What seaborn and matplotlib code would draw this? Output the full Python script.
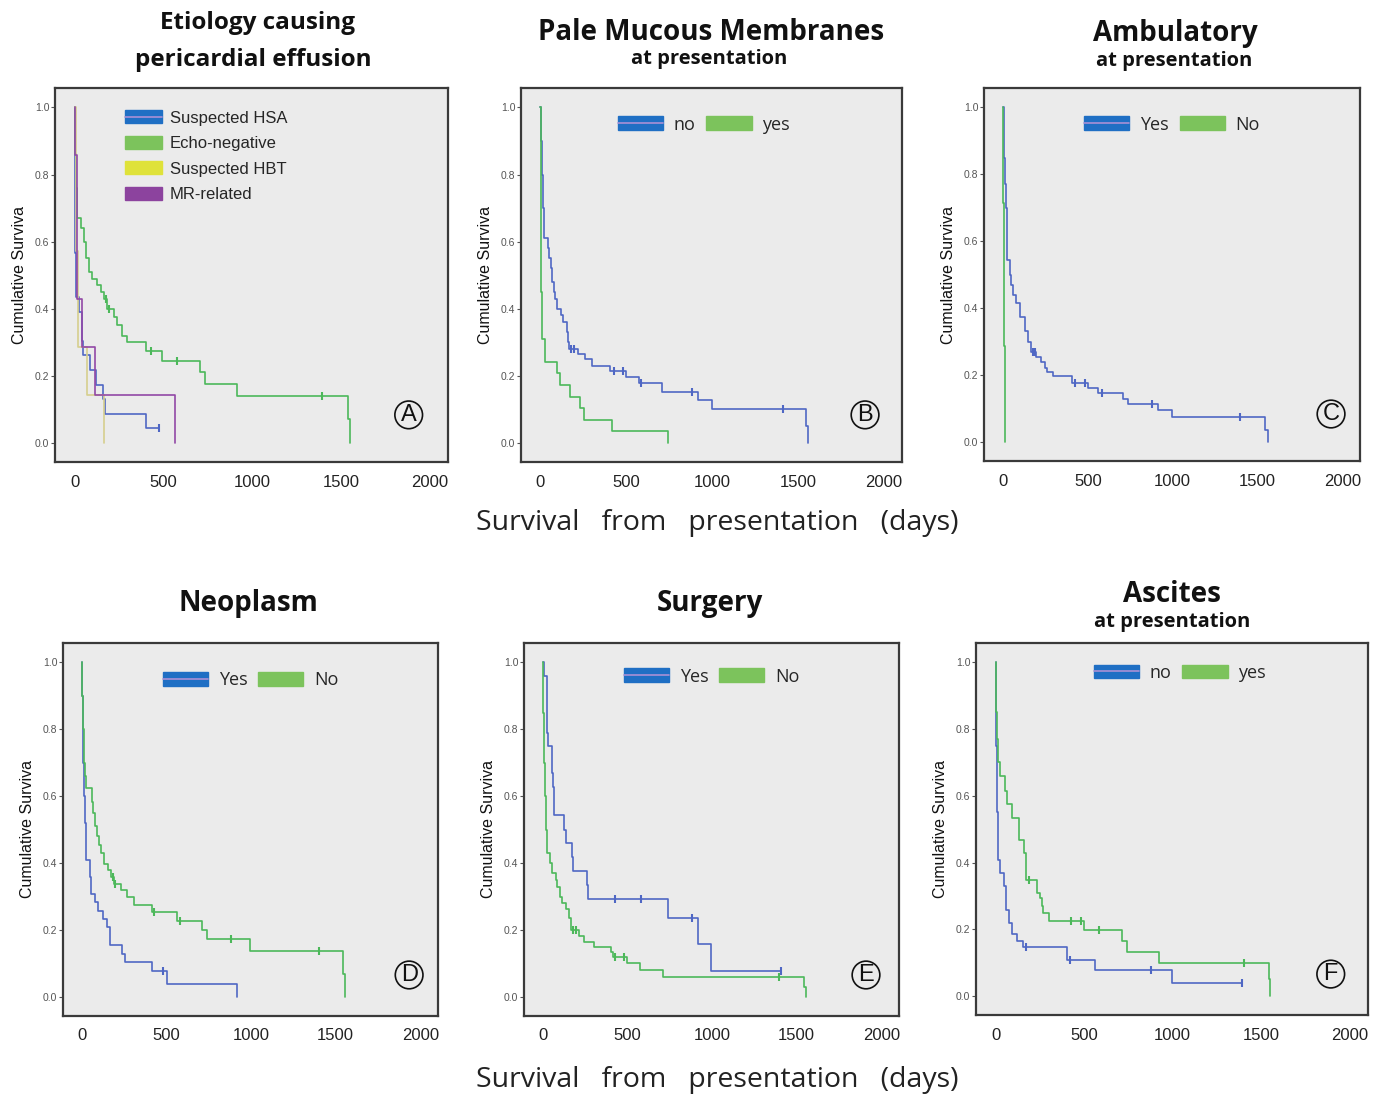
import numpy as np
import matplotlib
matplotlib.use("Agg")
import matplotlib.pyplot as plt
import matplotlib.patches as mpatches
from matplotlib.lines import Line2D
import seaborn as sns

# ── Data ────────────────────────────────────────────────────────
# A: etiology
A_HSA_T = [0, 3, 7, 26, 38, 45, 83, 122, 158, 170, 403, 475]
A_HSA_S = [1.0, 0.565, 0.435, 0.391, 0.304, 0.261, 0.217, 0.174, 0.130, 0.087, 0.043, 0.043]
A_HSA_C = [475]
A_ECHO_T = [0, 3, 8, 13, 32, 51, 64, 79, 98, 126, 145, 164, 183, 220, 239, 267, 296, 399,
            494, 706, 735, 912, 1539, 1552]
A_ECHO_S = [1.0, 0.86, 0.76, 0.67, 0.64, 0.60, 0.55, 0.51, 0.49, 0.47, 0.45, 0.43, 0.40, 0.375,
            0.35, 0.32, 0.30, 0.275, 0.245, 0.21, 0.175, 0.14, 0.07, 0.0]
A_ECHO_C = [173, 192, 428, 578, 1394]
A_HBT_T = [0, 8, 19, 70, 166]
A_HBT_S = [1.0, 0.571, 0.286, 0.143, 0.0]
A_MR_T = [0, 2, 12, 38, 113, 563]
A_MR_S = [1.0, 0.857, 0.429, 0.286, 0.143, 0.0]

# B: pale mucous membranes
B_NO_T = [0, 3, 8, 15, 20, 47, 52, 60, 70, 80, 88, 95, 122, 130, 155, 162, 170, 220, 260, 300,
          405, 500, 575, 710, 920, 1000, 1545, 1558]
B_NO_S = [1.0, 0.90, 0.80, 0.70, 0.61, 0.58, 0.55, 0.52, 0.48, 0.45, 0.43, 0.40, 0.38, 0.36,
          0.33, 0.30, 0.28, 0.265, 0.25, 0.23, 0.215, 0.195, 0.178, 0.153, 0.128, 0.102, 0.05, 0.0]
B_NO_C = [180, 195, 430, 480, 585, 885, 1410]
B_YES_T = [0, 2, 4, 7, 12, 25, 97, 117, 175, 231, 256, 416, 742]
B_YES_S = [1.0, 0.80, 0.58, 0.45, 0.31, 0.24, 0.207, 0.172, 0.138, 0.103, 0.069, 0.034, 0.0]

# C: ambulatory
C_YES_T = [0, 3, 6, 10, 15, 24, 43, 50, 60, 75, 99, 132, 150, 167, 197, 227, 246, 262, 296, 404,
           502, 562, 705, 739, 916, 999, 1547, 1561]
C_YES_S = [1.0, 0.92, 0.85, 0.77, 0.70, 0.545, 0.50, 0.47, 0.44, 0.414, 0.374, 0.331, 0.30, 0.268,
           0.255, 0.24, 0.222, 0.21, 0.197, 0.177, 0.162, 0.145, 0.127, 0.112, 0.094, 0.075, 0.037, 0.0]
C_YES_C = [177, 191, 425, 484, 581, 881, 1399]
C_NO_T = [0, 1, 2, 3, 5, 7, 9, 12]
C_NO_S = [1.0, 0.857, 0.714, 0.571, 0.429, 0.286, 0.143, 0.0]

# D: neoplasm
D_YES_T = [0, 2, 5, 8, 12, 18, 24, 45, 53, 77, 96, 122, 148, 167, 234, 254, 417, 500, 918]
D_YES_S = [1.0, 0.90, 0.80, 0.70, 0.60, 0.52, 0.41, 0.36, 0.308, 0.283, 0.257, 0.232, 0.21, 0.155,
           0.128, 0.103, 0.077, 0.038, 0.0]
D_YES_C = [480]
D_NO_T = [0, 2, 6, 10, 14, 18, 24, 57, 66, 79, 90, 102, 115, 132, 155, 171, 191, 230, 266, 305,
          417, 564, 712, 741, 993, 1544, 1557]
D_NO_S = [1.0, 0.90, 0.80, 0.74, 0.70, 0.66, 0.624, 0.584, 0.55, 0.511, 0.48, 0.454, 0.43, 0.397,
          0.38, 0.36, 0.338, 0.32, 0.298, 0.275, 0.253, 0.228, 0.20, 0.173, 0.138, 0.069, 0.0]
D_NO_C = [181, 197, 427, 580, 879, 1404]

# E: surgery
E_YES_T = [0, 6, 22, 26, 32, 51, 61, 65, 124, 134, 169, 179, 258, 268, 739, 916, 995, 1409]
E_YES_S = [1.0, 0.96, 0.875, 0.79, 0.75, 0.668, 0.627, 0.545, 0.50, 0.46, 0.419, 0.377, 0.335,
           0.293, 0.236, 0.158, 0.079, 0.079]
E_YES_C = [425, 579, 883, 1409]
E_NO_T = [0, 2, 4, 6, 10, 16, 26, 41, 51, 75, 85, 98, 114, 134, 154, 164, 213, 242, 301, 400,
          416, 494, 571, 709, 1542, 1556]
E_NO_S = [1.0, 0.85, 0.77, 0.70, 0.60, 0.50, 0.431, 0.40, 0.369, 0.35, 0.33, 0.30, 0.28, 0.263,
          0.235, 0.20, 0.183, 0.164, 0.15, 0.135, 0.12, 0.10, 0.08, 0.06, 0.031, 0.0]
E_NO_C = [177, 193, 425, 479, 1395]

# F: ascites
F_NO_T = [0, 2, 5, 9, 15, 23, 45, 56, 72, 94, 120, 151, 405, 563, 996, 1393]
F_NO_S = [1.0, 0.75, 0.65, 0.55, 0.407, 0.37, 0.33, 0.258, 0.22, 0.185, 0.166, 0.148, 0.109,
          0.079, 0.04, 0.04]
F_NO_C = [173, 422, 879, 1393]
F_YES_T = [0, 2, 6, 13, 23, 51, 64, 92, 130, 158, 169, 173, 233, 249, 260, 267, 301, 497, 714,
           742, 921, 1544, 1553]
F_YES_S = [1.0, 0.85, 0.77, 0.70, 0.66, 0.615, 0.576, 0.533, 0.469, 0.43, 0.40, 0.348, 0.31,
           0.293, 0.27, 0.25, 0.225, 0.199, 0.164, 0.131, 0.099, 0.05, 0.0]
F_YES_C = [186, 427, 480, 582, 1403]

Y_TICKS = [0.0, 0.2, 0.4, 0.6, 0.8, 1.0]
X_TICKS = [0, 500, 1000, 1500, 2000]

# ── Style ───────────────────────────────────────────────────────
BLUE_LINE, GREEN_LINE = "#4f67c4", "#4cb85a"
HBT_LINE, MR_LINE = "#d6cf8e", "#9248a6"
BLUE_PATCH, GREEN_PATCH = "#1f6fc4", "#7cc35c"
YELLOW_PATCH, PURPLE_PATCH = "#dfe23a", "#8c439e"
INNER = "#a990d6"
PANEL_BG, FRAME = "#ebebeb", "#3a3a3a"
TITLE_FONT = ["Open Sans", "DejaVu Sans"]
ARIAL = ["Liberation Sans", "DejaVu Sans"]

sns.set_style("white")
plt.rcParams["font.family"] = ARIAL

W, H = 1373, 1096
fig = plt.figure(figsize=(W / 100, H / 100), dpi=100)
fig.patch.set_facecolor("white")


def px_axes(l, r, t, b):
    return fig.add_axes([l / W, 1 - b / H, (r - l) / W, (b - t) / H])


def km_panel(ax, curves, letter, lxy):
    for times, surv, cens, color in curves:
        sns.lineplot(x=times, y=surv, drawstyle="steps-post", estimator=None, sort=False,
                     color=color, linewidth=1.2, ax=ax)
        if cens:
            idx = np.searchsorted(times, cens, side="right") - 1
            sns.scatterplot(x=cens, y=np.asarray(surv)[idx], marker="|", s=40, color=color,
                            linewidth=1.5, ax=ax, zorder=3)
    ax.set_xlim(-112, 2105)
    ax.set_ylim(-0.057, 1.058)
    ax.set_facecolor(PANEL_BG)
    for sp in ax.spines.values():
        sp.set_edgecolor(FRAME)
        sp.set_linewidth(1.6)
    ax.set_yticks(Y_TICKS)
    ax.set_yticklabels([f"{v:.1f}" for v in Y_TICKS], fontsize=7.5, color="#555555")
    ax.set_xticks(X_TICKS)
    ax.set_xticklabels([str(v) for v in X_TICKS], fontsize=12, color="#222222")
    ax.tick_params(axis="y", length=3, width=0.8, color="#555555", pad=1, left=True)
    ax.tick_params(axis="x", length=0, pad=9)
    ax.set_xlabel("")
    ax.set_ylabel("Cumulative Surviva", fontsize=11.5, color="#111111", labelpad=6)
    ax.text(lxy[0], lxy[1], letter, transform=ax.transAxes, ha="center", va="center",
            fontsize=17, color="#111111", fontfamily=ARIAL,
            bbox=dict(boxstyle="circle,pad=0.12", fc="none", ec="#111111", lw=1.2))


def pair_legend(ax, labels, colors, anchor):
    handles = [(mpatches.Patch(color=colors[0]), Line2D([], [], color=INNER, lw=1.2)),
               mpatches.Patch(color=colors[1])]
    ax.legend(handles, labels, loc="center", bbox_to_anchor=anchor, ncol=2, frameon=False,
              handlelength=2.5, handleheight=0.8, handletextpad=0.6, columnspacing=0.6,
              prop={"family": TITLE_FONT, "size": 13})


def title(x, y, txt, size):
    fig.text(x / W, 1 - y / H, txt, ha="center", va="center", fontsize=size,
             fontweight="bold", family=TITLE_FONT, color="#111111")


# ── Panels ──────────────────────────────────────────────────────
axA = px_axes(55, 448, 88, 462)
km_panel(axA, [(A_HSA_T, A_HSA_S, A_HSA_C, BLUE_LINE),
               (A_ECHO_T, A_ECHO_S, A_ECHO_C, GREEN_LINE),
               (A_HBT_T, A_HBT_S, [], HBT_LINE),
               (A_MR_T, A_MR_S, [], MR_LINE)], "A", (0.90, 0.126))
hA = [(mpatches.Patch(color=BLUE_PATCH), Line2D([], [], color=INNER, lw=1.2)),
      mpatches.Patch(color=GREEN_PATCH), mpatches.Patch(color=YELLOW_PATCH),
      mpatches.Patch(color=PURPLE_PATCH)]
axA.legend(hA, ["Suspected HSA", "Echo-negative", "Suspected HBT", "MR-related"],
           loc="upper left", bbox_to_anchor=(0.14, 0.98), frameon=False, fontsize=12,
           handlelength=2.2, handleheight=0.8, handletextpad=0.5, labelspacing=0.62)

axB = px_axes(521, 902, 88, 462)
km_panel(axB, [(B_NO_T, B_NO_S, B_NO_C, BLUE_LINE),
               (B_YES_T, B_YES_S, [], GREEN_LINE)], "B", (0.903, 0.126))
pair_legend(axB, ["no", "yes"], [BLUE_PATCH, GREEN_PATCH], (0.48, 0.902))

axC = px_axes(984, 1360, 88, 461)
km_panel(axC, [(C_YES_T, C_YES_S, C_YES_C, BLUE_LINE),
               (C_NO_T, C_NO_S, [], GREEN_LINE)], "C", (0.923, 0.126))
pair_legend(axC, ["Yes", "No"], [BLUE_PATCH, GREEN_PATCH], (0.5, 0.902))

axD = px_axes(63, 438, 643, 1016)
km_panel(axD, [(D_YES_T, D_YES_S, D_YES_C, BLUE_LINE),
               (D_NO_T, D_NO_S, D_NO_C, GREEN_LINE)], "D", (0.923, 0.11))
pair_legend(axD, ["Yes", "No"], [BLUE_PATCH, GREEN_PATCH], (0.5, 0.9))

axE = px_axes(524, 899, 643, 1016)
km_panel(axE, [(E_YES_T, E_YES_S, E_YES_C, BLUE_LINE),
               (E_NO_T, E_NO_S, E_NO_C, GREEN_LINE)], "E", (0.912, 0.11))
pair_legend(axE, ["Yes", "No"], [BLUE_PATCH, GREEN_PATCH], (0.5, 0.91))

axF = px_axes(976, 1368, 643, 1015)
km_panel(axF, [(F_NO_T, F_NO_S, F_NO_C, BLUE_LINE),
               (F_YES_T, F_YES_S, F_YES_C, GREEN_LINE)], "F", (0.905, 0.11))
pair_legend(axF, ["no", "yes"], [BLUE_PATCH, GREEN_PATCH], (0.52, 0.92))

# ── Titles and shared labels ────────────────────────────────────
title(258, 23, "Etiology causing", 17.5)
title(253, 60, "pericardial effusion", 17.5)
title(711, 33, "Pale Mucous Membranes", 20)
title(709, 59, "at presentation", 14.5)
title(1175, 33, "Ambulatory", 20)
title(1174, 61, "at presentation", 14.5)
title(248, 603, "Neoplasm", 20)
title(710, 603, "Surgery", 20)
title(1172, 594, "Ascites", 20)
title(1172, 622, "at presentation", 14.5)

for y in (523, 1080):
    fig.text(717 / W, 1 - y / H, "Survival   from   presentation   (days)", ha="center",
             va="center", fontsize=20.5, family=TITLE_FONT, color="#222222")

fig.savefig("out.png", dpi=100, facecolor="white")
